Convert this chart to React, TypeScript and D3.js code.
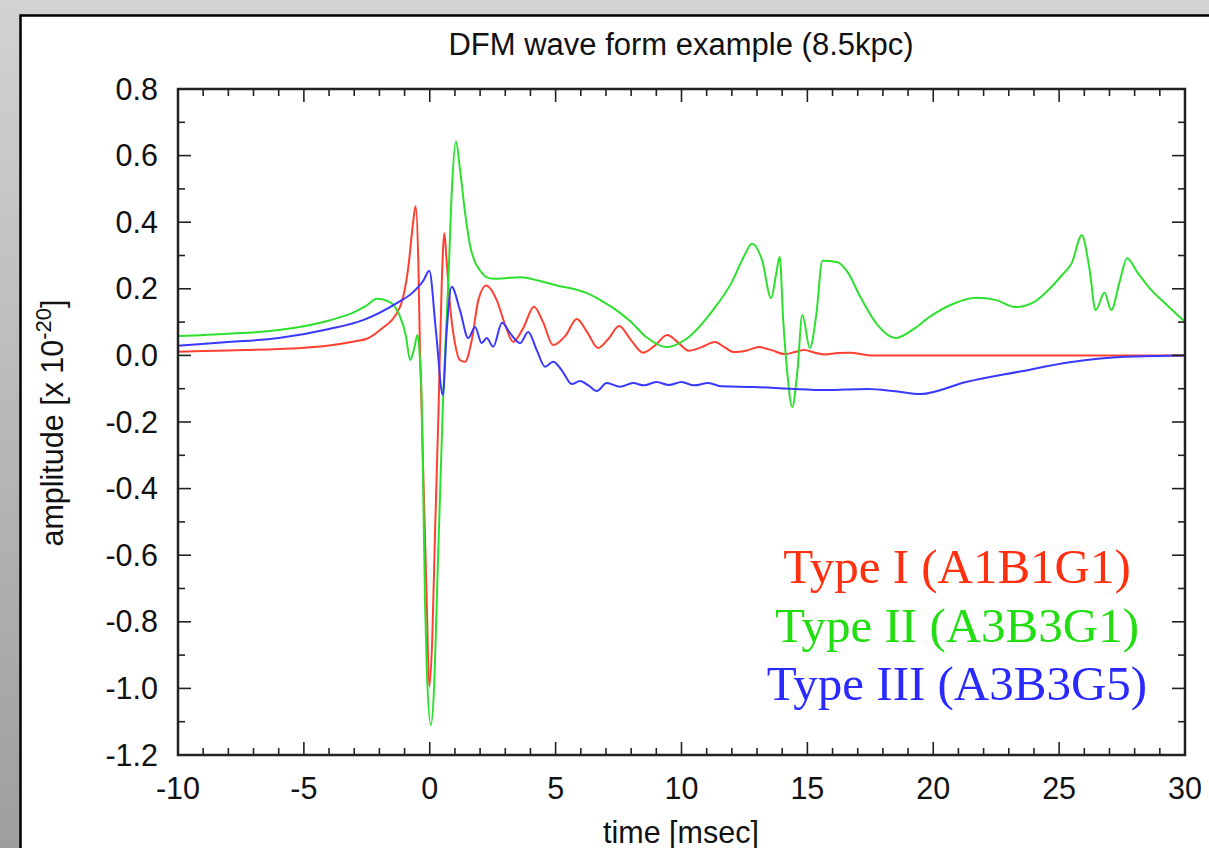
import React from 'react';
import * as d3 from 'd3';

// time [msec] / amplitude [x 1e-20]
const redT = [-10, -8, -6, -4, -3, -2.5, -2, -1.18, -0.85, -0.65, -0.56, -0.45, -0.39, -0.32, -0.12, -0.02, 0.1, 0.21, 0.34, 0.48, 0.58, 0.67, 0.81, 1.0, 1.2, 1.4, 1.67, 1.93, 2.24, 2.66, 3.0, 3.31, 3.7, 4.14, 4.5, 4.9, 5.4, 5.84, 6.25, 6.69, 7.1, 7.52, 8.0, 8.48, 8.95, 9.43, 9.85, 10.29, 10.8, 11.33, 11.7, 12.1, 12.6, 13.07, 13.6, 14.1, 14.5, 14.87, 15.3, 15.7, 16.2, 16.7, 17.5, 20, 25, 30];
const redV = [0.011, 0.015, 0.019, 0.03, 0.042, 0.05, 0.075, 0.146, 0.266, 0.406, 0.449, 0.266, 0.026, -0.17, -0.74, -0.995, -0.85, -0.53, -0.19, 0.226, 0.367, 0.286, 0.146, 0.037, -0.014, -0.019, 0.046, 0.166, 0.21, 0.166, 0.09, 0.041, 0.08, 0.146, 0.1, 0.031, 0.06, 0.109, 0.07, 0.022, 0.05, 0.088, 0.045, 0.008, 0.03, 0.061, 0.04, 0.014, 0.025, 0.04, 0.025, 0.01, 0.015, 0.025, 0.015, 0.004, 0.01, 0.016, 0.008, 0.003, 0.007, 0.008, 0.0, 0.0, 0.0, 0.0];

const greenT = [-10, -8, -6, -4, -3, -2.5, -2.1, -1.58, -1.2, -0.95, -0.78, -0.62, -0.49, -0.4, -0.32, -0.19, -0.12, 0.04, 0.18, 0.28, 0.53, 0.74, 0.88, 1.04, 1.2, 1.4, 1.6, 1.8, 2.0, 2.25, 2.53, 3.0, 3.6, 4.3, 5.05, 5.7, 6.25, 6.8, 7.3, 8.0, 8.6, 9.4, 10.2, 11.25, 12.0, 12.5, 12.8, 13.2, 13.56, 13.75, 13.9, 14.04, 14.2, 14.4, 14.6, 14.8, 15.1, 15.35, 15.6, 16.2, 16.6, 17.1, 17.8, 18.5, 19.2, 19.9, 20.8, 21.7, 22.5, 23.25, 24.0, 24.5, 25.1, 25.5, 25.9, 26.2, 26.45, 26.8, 27.07, 27.4, 27.7, 28.1, 28.55, 29.3, 30];
const greenV = [0.058, 0.065, 0.076, 0.105, 0.13, 0.15, 0.17, 0.16, 0.12, 0.06, -0.014, 0.02, 0.061, 0.0, -0.13, -0.735, -0.935, -1.11, -0.985, -0.735, -0.13, 0.226, 0.5, 0.642, 0.56, 0.43, 0.33, 0.28, 0.255, 0.235, 0.23, 0.232, 0.235, 0.225, 0.21, 0.2, 0.187, 0.165, 0.142, 0.1, 0.055, 0.025, 0.05, 0.136, 0.22, 0.3, 0.335, 0.286, 0.172, 0.24, 0.296, 0.106, -0.05, -0.155, -0.05, 0.121, 0.022, 0.12, 0.284, 0.28, 0.25, 0.176, 0.09, 0.052, 0.078, 0.118, 0.155, 0.173, 0.166, 0.145, 0.16, 0.191, 0.24, 0.277, 0.361, 0.263, 0.136, 0.188, 0.136, 0.22, 0.292, 0.25, 0.206, 0.15, 0.101];

const blueT = [-10, -8, -6, -4, -2.65, -1.31, -0.66, -0.25, -0.02, 0.25, 0.52, 0.67, 0.87, 1.2, 1.53, 1.8, 2.06, 2.26, 2.52, 2.87, 3.19, 3.59, 3.91, 4.25, 4.58, 4.9, 5.24, 5.64, 5.97, 6.3, 6.63, 7.03, 7.56, 8.08, 8.5, 9.0, 9.5, 10.0, 10.5, 11.06, 11.6, 12.9, 14.3, 15.7, 17.4, 18.5, 19.5, 21.3, 23.4, 25.5, 27.6, 30];
const blueV = [0.029, 0.04, 0.052, 0.079, 0.106, 0.157, 0.19, 0.225, 0.254, 0.07, -0.119, 0.07, 0.206, 0.136, 0.052, 0.085, 0.037, 0.052, 0.026, 0.098, 0.067, 0.037, 0.07, 0.016, -0.034, -0.019, -0.044, -0.086, -0.077, -0.09, -0.107, -0.083, -0.094, -0.083, -0.09, -0.08, -0.089, -0.08, -0.09, -0.083, -0.093, -0.095, -0.1, -0.104, -0.101, -0.108, -0.116, -0.08, -0.049, -0.02, -0.004, 0.0];

const xTicks = [-10, -5, 0, 5, 10, 15, 20, 25, 30];
const yTicks = [0.8, 0.6, 0.4, 0.2, 0.0, -0.2, -0.4, -0.6, -0.8, -1.0, -1.2];
const legendLabels = ['Type I (A1B1G1)', 'Type II (A3B3G1)', 'Type III (A3B3G5)'];

const W = 1209, H = 848;
const left = 178, right = 1185, top = 89, bottom = 755;

const series = [
  { t: redT, v: redV, color: '#ff4030', text: '#ff3010' },
  { t: greenT, v: greenV, color: '#2ee02e', text: '#22dd11' },
  { t: blueT, v: blueV, color: '#3838ff', text: '#2a2aff' },
];

export default function App() {
  const x = d3.scaleLinear().domain([-10, 30]).range([left, right]);
  const y = d3.scaleLinear().domain([-1.2, 0.8]).range([bottom, top]);

  const line = d3.line<[number, number]>()
    .curve(d3.curveMonotoneX)
    .x(d => x(d[0]))
    .y(d => y(d[1]));

  const xMinor = d3.range(-10, 31, 1);
  const yMinor = d3.range(-12, 9, 1).map(i => i / 10);
  const fmtY = (v: number) => d3.format('.1f')(v).replace('\u2212', '-');
  const sans = 'Liberation Sans, Arial, Helvetica, sans-serif';
  const serif = 'Liberation Serif, Times New Roman, serif';

  return (
    <svg width={W} height={H} style={{ position: 'absolute', left: 0, top: 0 }}>
      <defs>
        <linearGradient id="bg" x1="0" y1="0" x2="0" y2="1">
          <stop offset="0" stopColor="#d2d2d2" />
          <stop offset="1" stopColor="#9e9e9e" />
        </linearGradient>
      </defs>
      <rect x={0} y={0} width={W} height={H} fill="url(#bg)" />
      <rect x={20.5} y={15.5} width={W + 20} height={H + 20} fill="#fff" stroke="#000" strokeWidth={2.5} />

      <text x={681} y={55} textAnchor="middle" fontFamily={sans} fontSize={31} fill="#111">
        DFM wave form example (8.5kpc)
      </text>

      {/* curves */}
      <g fill="none" strokeWidth={2} strokeLinejoin="round">
        {series.map((s, i) => (
          <path key={i} stroke={s.color} d={line(s.t.map((t, j) => [t, s.v[j]] as [number, number])) || ''} />
        ))}
      </g>

      {/* ticks, mirrored on all sides */}
      <g stroke="#222" strokeWidth={1.6}>
        {xMinor.map(t => {
          const len = t % 5 === 0 ? 13 : 7;
          return (
            <g key={'xt' + t}>
              <line x1={x(t)} x2={x(t)} y1={bottom} y2={bottom - len} />
              <line x1={x(t)} x2={x(t)} y1={top} y2={top + len} />
            </g>
          );
        })}
        {yMinor.map(v => {
          const len = Math.round(v * 10) % 2 === 0 ? 13 : 7;
          return (
            <g key={'yt' + v}>
              <line x1={left} x2={left + len} y1={y(v)} y2={y(v)} />
              <line x1={right} x2={right - len} y1={y(v)} y2={y(v)} />
            </g>
          );
        })}
      </g>
      <rect x={left} y={top} width={right - left} height={bottom - top} fill="none" stroke="#222" strokeWidth={2.5} />

      <g fontFamily={sans} fontSize={30.5} fill="#111">
        {xTicks.map(t => (
          <text key={'xl' + t} x={x(t)} y={799} textAnchor="middle">{String(t)}</text>
        ))}
        {yTicks.map(v => (
          <text key={'yl' + v} x={158} y={y(v)} dy="0.35em" textAnchor="end">{fmtY(v)}</text>
        ))}
        <text x={681} y={843} textAnchor="middle">time [msec]</text>
        <text transform="translate(63,423) rotate(-90)" textAnchor="middle">
          amplitude [x 10<tspan dy={-12} fontSize={22}>-20</tspan><tspan dy={12}>]</tspan>
        </text>
      </g>

      <g fontFamily={serif} fontSize={49} textAnchor="middle">
        {legendLabels.map((l, i) => (
          <text key={l} x={957} y={583 + i * 58.5} fill={series[i].text}>{l}</text>
        ))}
      </g>
    </svg>
  );
}
